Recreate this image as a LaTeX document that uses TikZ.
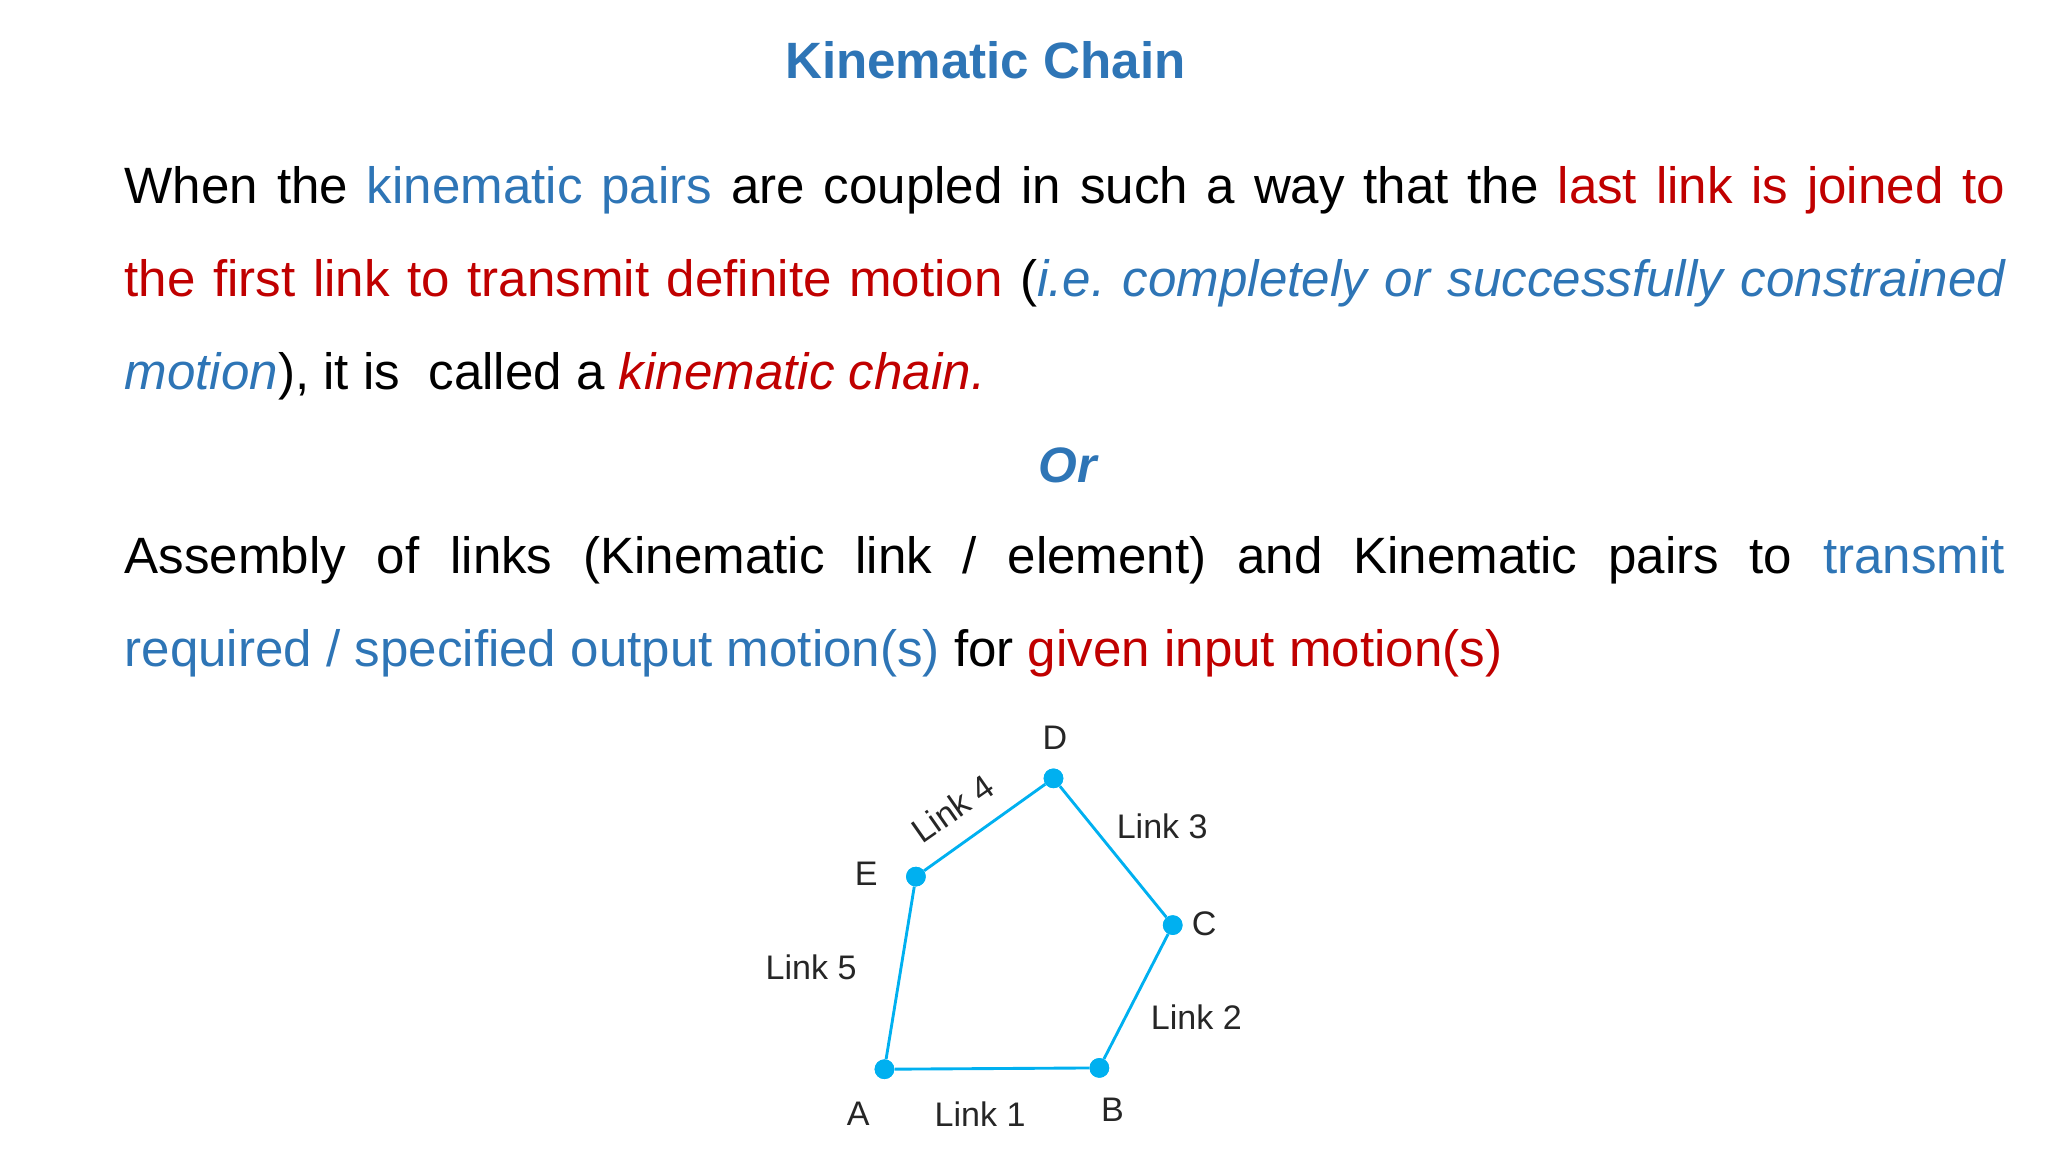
\documentclass[tikz,border=0pt]{standalone}
\usepackage{fontspec}
\setmainfont{Liberation Sans}
\frenchspacing
\definecolor{tblue}{RGB}{46,117,182}
\definecolor{tred}{RGB}{192,0,0}
\definecolor{lcyan}{RGB}{0,176,240}
\begin{document}
\begin{tikzpicture}[x=1pt,y=-1pt,
  para/.style={anchor=north west,text width=1435pt,align=justify,inner sep=0pt,font=\fontsize{39}{71}\selectfont},
  joint/.style={circle,fill=lcyan,inner sep=0pt,minimum size=15pt},
  lbl/.style={font=\fontsize{26}{30}\selectfont,text=black!85},
  link/.style={draw=lcyan,line width=2.2pt}]
\useasboundingbox (0,0) rectangle (1563,879);
\node (title) at (752,46) {\fontsize{39}{44}\selectfont\bfseries\color{tblue}Kinematic Chain};
\node[para] (p1) at (95,127) {When the \textcolor{tblue}{kinematic pairs} are coupled in such a way that the \textcolor{tred}{last link is joined to}\linebreak
\textcolor{tred}{the first link to transmit definite motion} (\textcolor{tblue}{\itshape i.e. completely or successfully constrained}\linebreak
\textcolor{tblue}{\itshape motion}), it is\ \ called a \textcolor{tred}{\itshape kinematic chain.}};
\node (or) at (815,355) {\fontsize{38}{42}\selectfont\bfseries\itshape\color{tblue}Or};
\node[para] (p2) at (95,409) {Assembly of links (Kinematic link / element) and Kinematic pairs to \textcolor{tblue}{transmit}\linebreak
\textcolor{tblue}{required / specified output motion(s)} for \textcolor{tred}{given input motion(s)}};
\node[joint] (A) at (675,816) {};
\node[joint] (B) at (839,815) {};
\node[joint] (C) at (895,706) {};
\node[joint] (D) at (804,594) {};
\node[joint] (E) at (699,669) {};
\draw[link] (A) -- (B) -- (C) -- (D) -- (E) -- (A);
\foreach \n in {A,B,C,D,E} \node[joint] at (\n) {};
\node[lbl] (la) at (655,850) {A};
\node[lbl] (lb) at (849,847) {B};
\node[lbl] (lc) at (919,705) {C};
\node[lbl] (ld) at (805,563) {D};
\node[lbl] (le) at (661,667) {E};
\node[lbl] (l1) at (748,850) {Link 1};
\node[lbl] (l2) at (913,776) {Link 2};
\node[lbl] (l3) at (887,631) {Link 3};
\node[lbl,rotate=35,inner sep=1pt] (l4) at (727,617) {Link 4};
\node[lbl] (l5) at (619,738) {Link 5};
\end{tikzpicture}
\end{document}
